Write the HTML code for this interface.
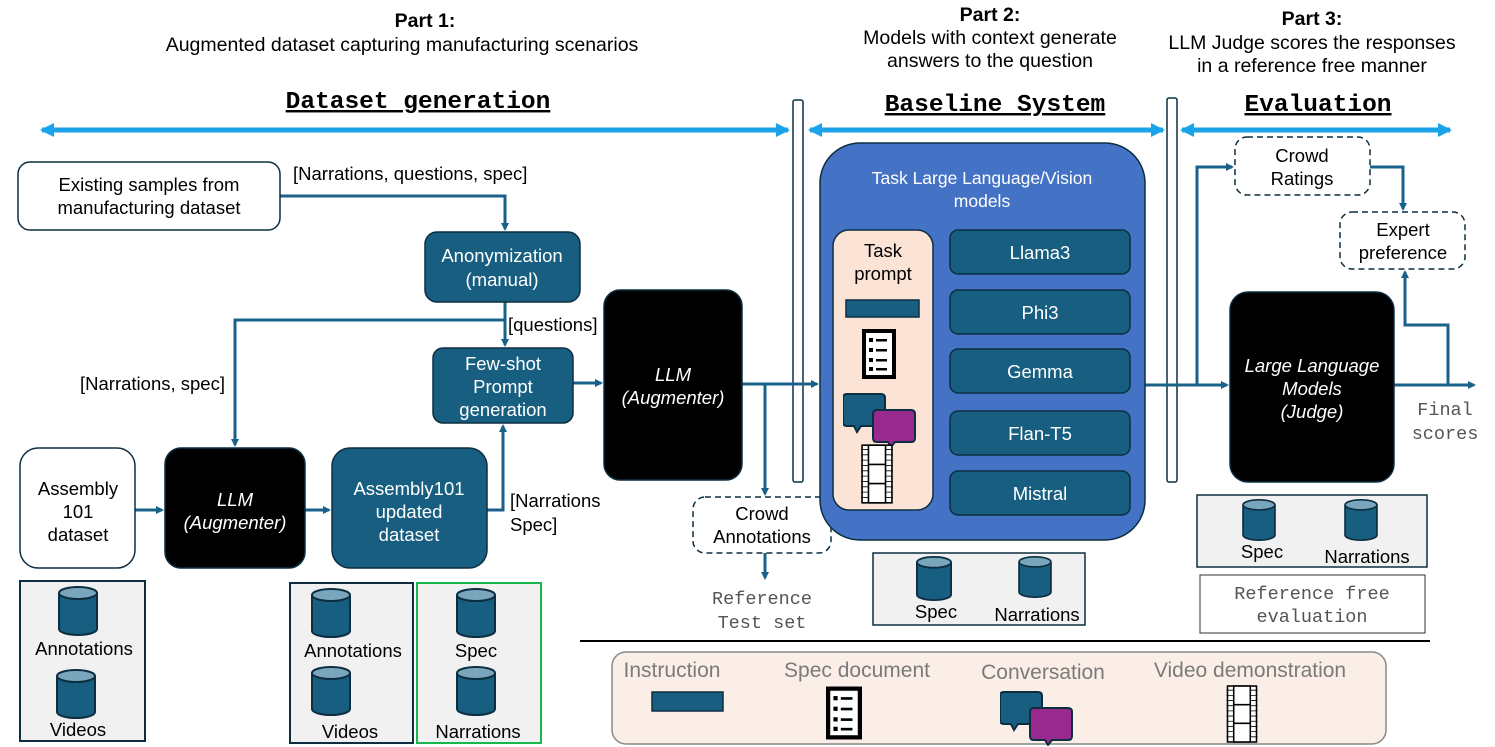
<!DOCTYPE html>
<html><head><meta charset="utf-8"><style>
body{margin:0;background:#fff}
svg{display:block}
text{font-family:"Liberation Sans",sans-serif;font-size:18.5px;fill:#000}
.w{fill:#fff}
.m{font-family:"Liberation Mono",monospace;font-size:18.5px}
.h{font-family:"Liberation Mono",monospace;font-weight:bold;font-size:24.5px;text-decoration:underline}
.t{font-size:19.5px}
.ln{fill:none;stroke:#1a6189;stroke-width:3}
</style></head><body>
<svg width="1495" height="747" viewBox="0 0 1495 747" xmlns="http://www.w3.org/2000/svg">
<defs>
<marker id="a" markerWidth="8" markerHeight="8" refX="6" refY="4" orient="auto" markerUnits="userSpaceOnUse"><path d="M0,0 L8,4 L0,8z" fill="#1a6189"/></marker>
<marker id="b" markerWidth="14" markerHeight="14" refX="12" refY="7" orient="auto" markerUnits="userSpaceOnUse"><path d="M0,0 L14,7 L0,14z" fill="#1aa3e8"/></marker>
<marker id="b2" markerWidth="14" markerHeight="14" refX="2" refY="7" orient="auto" markerUnits="userSpaceOnUse"><path d="M14,0 L0,7 L14,14z" fill="#1aa3e8"/></marker>
<symbol id="cyl" viewBox="0 0 42 50"><path d="M2,7 V43 A19,6 0 0 0 40,43 V7" fill="#175e80" stroke="#0d2e40" stroke-width="2"/><ellipse cx="21" cy="7" rx="19" ry="6" fill="#7aa6bd" stroke="#0d2e40" stroke-width="2"/></symbol>
<symbol id="doc" viewBox="0 0 34 50"><rect x="2" y="2" width="30" height="46" fill="#fff" stroke="#000" stroke-width="4"/><g fill="#000"><rect x="7" y="9" width="4" height="4"/><rect x="14" y="10" width="11" height="2.5"/><rect x="7" y="19" width="4" height="4"/><rect x="14" y="20" width="11" height="2.5"/><rect x="7" y="29" width="4" height="4"/><rect x="14" y="30" width="11" height="2.5"/><rect x="7" y="38" width="4" height="4"/><rect x="14" y="39" width="11" height="2.5"/></g></symbol>
<symbol id="film" viewBox="0 0 30 56"><rect x="1" y="1" width="28" height="54" fill="#fff" stroke="#000" stroke-width="1.5"/><path d="M0,5 H30 M0,10 H30 M0,15 H30 M0,20 H30 M0,25 H30 M0,30 H30 M0,35 H30 M0,40 H30 M0,45 H30 M0,50 H30" stroke="#000" stroke-width="0.8"/><rect x="7" y="1" width="16" height="54" fill="#fff" stroke="#000" stroke-width="1.5"/><path d="M7,19 H23 M7,37 H23" stroke="#000" stroke-width="1.5"/></symbol>
<symbol id="conv" viewBox="0 0 80 56"><path d="M4,2 H38 Q42,2 42,6 V30 Q42,34 38,34 H18 L14,40 L11,34 H4 Q0,34 0,30 V6 Q0,2 4,2z" fill="#175e80" stroke="#0d2e40" stroke-width="2"/><path d="M34,18 H68 Q72,18 72,22 V46 Q72,50 68,50 H52 L48,55 L45,50 H34 Q30,50 30,46 V22 Q30,18 34,18z" fill="#982a8f" stroke="#0d2e40" stroke-width="2"/></symbol>
</defs>

<!-- headings -->
<text x="425" y="27" text-anchor="middle" font-weight="bold" class="t">Part 1:</text>
<text x="402" y="51" text-anchor="middle" class="t">Augmented dataset capturing manufacturing scenarios</text>
<text x="990" y="21" text-anchor="middle" font-weight="bold" class="t">Part 2:</text>
<text x="990" y="44" text-anchor="middle" class="t">Models with context generate</text>
<text x="990" y="67" text-anchor="middle" class="t">answers to the question</text>
<text x="1312" y="25" text-anchor="middle" font-weight="bold" class="t">Part 3:</text>
<text x="1312" y="49" text-anchor="middle" class="t">LLM Judge scores the responses</text>
<text x="1312" y="72" text-anchor="middle" class="t">in a reference free manner</text>
<text x="418" y="108" text-anchor="middle" class="h">Dataset generation</text>
<text x="995" y="111" text-anchor="middle" class="h">Baseline System</text>
<text x="1318" y="111" text-anchor="middle" class="h">Evaluation</text>

<!-- blue arrows -->
<g stroke="#1aa3e8" stroke-width="5" fill="none">
<line x1="42" y1="130" x2="788" y2="130" marker-start="url(#b2)" marker-end="url(#b)"/>
<line x1="810" y1="130" x2="1163" y2="130" marker-start="url(#b2)" marker-end="url(#b)"/>
<line x1="1182" y1="130" x2="1450" y2="130" marker-start="url(#b2)" marker-end="url(#b)"/>
</g>
<rect x="793" y="100" width="10" height="382" fill="#fff" stroke="#0d2e40" stroke-width="1.5" rx="2"/>
<rect x="1167" y="98" width="10" height="384" fill="#fff" stroke="#0d2e40" stroke-width="1.5" rx="2"/>

<!-- connectors part 1 -->
<path class="ln" d="M280,196 H505 V229" marker-end="url(#a)"/>
<text x="293" y="180">[Narrations, questions, spec]</text>
<path class="ln" d="M505,302 V345" marker-end="url(#a)"/>
<text x="508" y="331">[questions]</text>
<path class="ln" d="M505,320 H235 V445" marker-end="url(#a)"/>
<text x="80" y="390">[Narrations, spec]</text>
<path class="ln" d="M135,510 H162" marker-end="url(#a)"/>
<path class="ln" d="M305,510 H329" marker-end="url(#a)"/>
<path class="ln" d="M487,510 H503 V426" marker-end="url(#a)"/>
<text x="510" y="507">[Narrations</text>
<text x="510" y="531">Spec]</text>
<path class="ln" d="M573,383 H601" marker-end="url(#a)"/>
<path class="ln" d="M742,384 H817" marker-end="url(#a)"/>
<path class="ln" d="M765,384 V494" marker-end="url(#a)"/>
<path class="ln" d="M765,553 V578" marker-end="url(#a)"/>
<text x="762" y="604" text-anchor="middle" class="m" style="fill:#555">Reference</text>
<text x="762" y="628" text-anchor="middle" class="m" style="fill:#555">Test set</text>

<!-- connectors part 3 -->
<path class="ln" d="M1145,385 H1227" marker-end="url(#a)"/>
<path class="ln" d="M1197,385 V167 H1232" marker-end="url(#a)"/>
<path class="ln" d="M1370,167 H1403 V209" marker-end="url(#a)"/>
<path class="ln" d="M1394,385 H1474" marker-end="url(#a)"/>
<path class="ln" d="M1448,385 V325 H1405 V272" marker-end="url(#a)"/>
<text x="1445" y="415" text-anchor="middle" class="m" style="fill:#555">Final</text>
<text x="1445" y="439" text-anchor="middle" class="m" style="fill:#555">scores</text>

<!-- part 1 boxes -->
<rect x="18" y="162" width="262" height="68" rx="12" fill="#fff" stroke="#0d2e40" stroke-width="1.5"/>
<text x="149" y="191" text-anchor="middle">Existing samples from</text>
<text x="149" y="214" text-anchor="middle">manufacturing dataset</text>
<rect x="425" y="232" width="155" height="70" rx="12" fill="#175e80" stroke="#0d2e40" stroke-width="1.5"/>
<text x="502" y="262" text-anchor="middle" class="w">Anonymization</text>
<text x="502" y="286" text-anchor="middle" class="w">(manual)</text>
<rect x="433" y="348" width="140" height="75" rx="10" fill="#175e80" stroke="#0d2e40" stroke-width="1.5"/>
<text x="503" y="370" text-anchor="middle" class="w">Few-shot</text>
<text x="503" y="393" text-anchor="middle" class="w">Prompt</text>
<text x="503" y="416" text-anchor="middle" class="w">generation</text>
<rect x="604" y="290" width="138" height="190" rx="16" fill="#000" stroke="#0d2e40" stroke-width="1.5"/>
<text x="673" y="381" text-anchor="middle" class="w" font-style="italic">LLM</text>
<text x="673" y="404" text-anchor="middle" class="w" font-style="italic">(Augmenter)</text>
<rect x="20" y="448" width="115" height="120" rx="18" fill="#fff" stroke="#0d2e40" stroke-width="1.5"/>
<text x="78" y="495" text-anchor="middle">Assembly</text>
<text x="78" y="518" text-anchor="middle">101</text>
<text x="78" y="541" text-anchor="middle">dataset</text>
<rect x="165" y="448" width="140" height="120" rx="16" fill="#000" stroke="#0d2e40" stroke-width="1.5"/>
<text x="235" y="506" text-anchor="middle" class="w" font-style="italic">LLM</text>
<text x="235" y="529" text-anchor="middle" class="w" font-style="italic">(Augmenter)</text>
<rect x="332" y="448" width="155" height="120" rx="18" fill="#175e80" stroke="#0d2e40" stroke-width="1.5"/>
<text x="409" y="495" text-anchor="middle" class="w">Assembly101</text>
<text x="409" y="518" text-anchor="middle" class="w">updated</text>
<text x="409" y="541" text-anchor="middle" class="w">dataset</text>

<rect x="20" y="581" width="125" height="160" fill="#f1f1f1" stroke="#0d2e40" stroke-width="2"/>
<use href="#cyl" x="57" y="586" width="42" height="50"/>
<text x="84" y="655" text-anchor="middle">Annotations</text>
<use href="#cyl" x="55" y="669" width="42" height="50"/>
<text x="78" y="736" text-anchor="middle">Videos</text>
<rect x="290" y="583" width="123" height="160" fill="#f1f1f1" stroke="#0d2e40" stroke-width="2"/>
<use href="#cyl" x="310" y="588" width="42" height="50"/>
<text x="353" y="657" text-anchor="middle">Annotations</text>
<use href="#cyl" x="310" y="666" width="42" height="50"/>
<text x="350" y="738" text-anchor="middle">Videos</text>
<rect x="417" y="583" width="124" height="160" fill="#f1f1f1" stroke="#19b54f" stroke-width="2"/>
<use href="#cyl" x="455" y="588" width="42" height="50"/>
<text x="476" y="657" text-anchor="middle">Spec</text>
<use href="#cyl" x="455" y="666" width="42" height="50"/>
<text x="478" y="738" text-anchor="middle">Narrations</text>

<rect x="693" y="497" width="138" height="56" rx="12" fill="#fff" stroke="#0d2e40" stroke-width="1.5" stroke-dasharray="6,4"/>
<text x="762" y="520" text-anchor="middle">Crowd</text>
<text x="762" y="543" text-anchor="middle">Annotations</text>

<!-- part 2 -->
<rect x="820" y="143" width="325" height="397" rx="40" fill="#4472c4" stroke="#0d2e40" stroke-width="1.5"/>
<text x="982" y="184" text-anchor="middle" class="w" style="font-size:17.5px">Task Large Language/Vision</text>
<text x="982" y="207" text-anchor="middle" class="w" style="font-size:17.5px">models</text>
<rect x="833" y="230" width="100" height="280" rx="16" fill="#fbe3d6" stroke="#0d2e40" stroke-width="1.5"/>
<text x="883" y="257" text-anchor="middle">Task</text>
<text x="883" y="280" text-anchor="middle">prompt</text>
<rect x="846" y="300" width="73" height="17" fill="#175e80" stroke="#0d2e40" stroke-width="1.5"/>
<use href="#doc" x="861" y="329" width="36" height="50"/>
<use href="#conv" x="843" y="392" width="80" height="56"/>
<use href="#film" x="861" y="444" width="32" height="60"/>
<g fill="#175e80" stroke="#0d2e40" stroke-width="1.5">
<rect x="950" y="230" width="180" height="44" rx="8"/>
<rect x="950" y="290" width="180" height="44" rx="8"/>
<rect x="950" y="349" width="180" height="44" rx="8"/>
<rect x="950" y="411" width="180" height="44" rx="8"/>
<rect x="950" y="471" width="180" height="44" rx="8"/>
</g>
<text x="1040" y="259" text-anchor="middle" class="w">Llama3</text>
<text x="1040" y="319" text-anchor="middle" class="w">Phi3</text>
<text x="1040" y="378" text-anchor="middle" class="w">Gemma</text>
<text x="1040" y="440" text-anchor="middle" class="w">Flan-T5</text>
<text x="1040" y="500" text-anchor="middle" class="w">Mistral</text>
<rect x="873" y="553" width="212" height="72" fill="#f1f1f1" stroke="#0d2e40" stroke-width="1.5"/>
<use href="#cyl" x="913" y="556" width="42" height="45"/>
<text x="936" y="618" text-anchor="middle">Spec</text>
<use href="#cyl" x="1014" y="556" width="42" height="42"/>
<text x="1037" y="621" text-anchor="middle">Narrations</text>

<!-- part 3 -->
<rect x="1235" y="137" width="135" height="58" rx="12" fill="#fff" stroke="#0d2e40" stroke-width="1.5" stroke-dasharray="6,4"/>
<text x="1302" y="162" text-anchor="middle">Crowd</text>
<text x="1302" y="185" text-anchor="middle">Ratings</text>
<rect x="1340" y="212" width="125" height="57" rx="12" fill="#fff" stroke="#0d2e40" stroke-width="1.5" stroke-dasharray="6,4"/>
<text x="1403" y="236" text-anchor="middle">Expert</text>
<text x="1403" y="259" text-anchor="middle">preference</text>
<rect x="1230" y="292" width="164" height="190" rx="18" fill="#000" stroke="#0d2e40" stroke-width="1.5"/>
<text x="1312" y="372" text-anchor="middle" class="w" font-style="italic">Large Language</text>
<text x="1312" y="395" text-anchor="middle" class="w" font-style="italic">Models</text>
<text x="1312" y="418" text-anchor="middle" class="w" font-style="italic">(Judge)</text>
<rect x="1197" y="495" width="230" height="72" fill="#f1f1f1" stroke="#0d2e40" stroke-width="1.5"/>
<use href="#cyl" x="1238" y="499" width="42" height="42"/>
<text x="1262" y="558" text-anchor="middle">Spec</text>
<use href="#cyl" x="1340" y="499" width="42" height="42"/>
<text x="1367" y="563" text-anchor="middle">Narrations</text>
<rect x="1200" y="575" width="225" height="58" fill="#fff" stroke="#333" stroke-width="1"/>
<text x="1312" y="599" text-anchor="middle" class="m" style="fill:#555">Reference free</text>
<text x="1312" y="622" text-anchor="middle" class="m" style="fill:#555">evaluation</text>

<!-- legend -->
<line x1="580" y1="641" x2="1430" y2="641" stroke="#000" stroke-width="2"/>
<rect x="612" y="652" width="774" height="92" rx="14" fill="#fbeee6" stroke="#888" stroke-width="1.5"/>
<text x="672" y="677" text-anchor="middle" style="fill:#7a7a7a;font-size:21px">Instruction</text>
<text x="857" y="677" text-anchor="middle" style="fill:#7a7a7a;font-size:21px">Spec document</text>
<text x="1043" y="679" text-anchor="middle" style="fill:#7a7a7a;font-size:21px">Conversation</text>
<text x="1250" y="677" text-anchor="middle" style="fill:#7a7a7a;font-size:21px">Video demonstration</text>
<rect x="652" y="692" width="71" height="19" fill="#175e80" stroke="#0d2e40" stroke-width="1.5"/>
<use href="#doc" x="826" y="686" width="36" height="54"/>
<use href="#conv" x="1000" y="690" width="80" height="56"/>
<use href="#film" x="1226" y="685" width="32" height="58"/>
</svg>
</body></html>
